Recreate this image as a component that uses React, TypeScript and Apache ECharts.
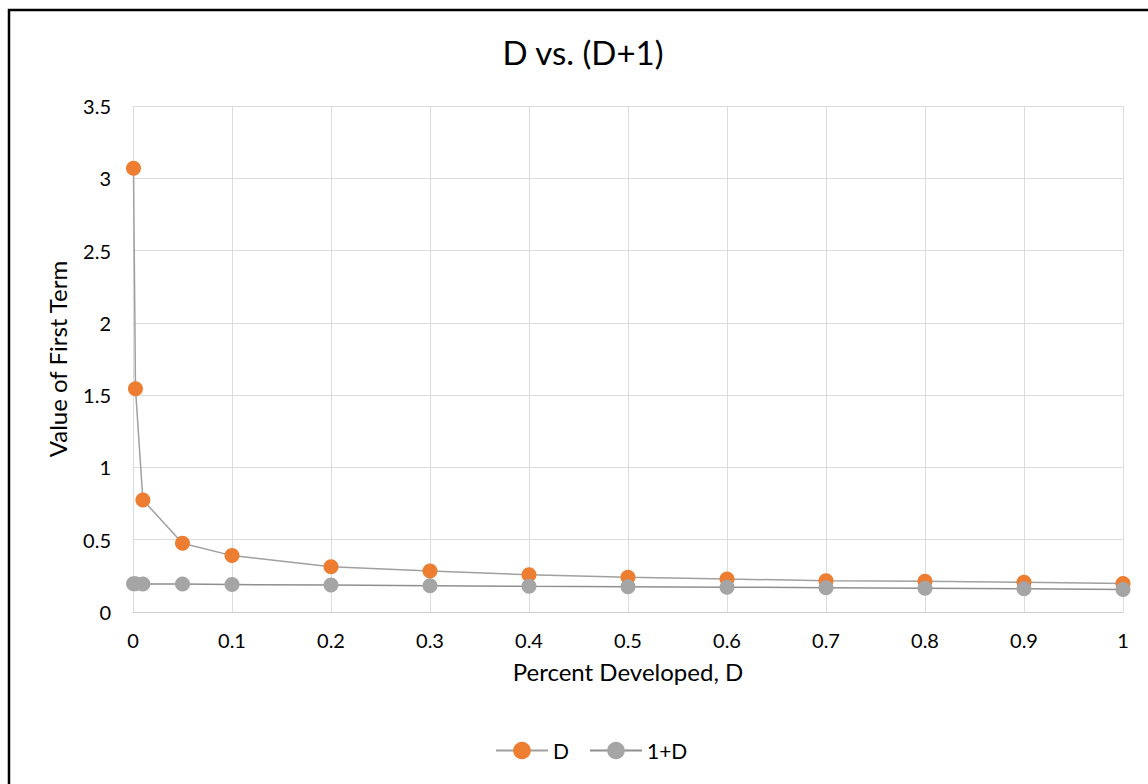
import React, { useEffect, useRef } from "react";
import * as echarts from "echarts";

// Percent developed, D (x) and the value of the first term for each form
const percentDeveloped = [0.0005, 0.0025, 0.01, 0.05, 0.1, 0.2, 0.3, 0.4, 0.5, 0.6, 0.7, 0.8, 0.9, 1];
const valuesD = [3.07, 1.545, 0.775, 0.475, 0.39, 0.313, 0.284, 0.258, 0.24, 0.228, 0.217, 0.212, 0.205, 0.197];
const valuesOnePlusD = [0.195, 0.195, 0.194, 0.193, 0.19, 0.186, 0.182, 0.178, 0.175, 0.172, 0.168, 0.164, 0.16, 0.156];

const seriesNames = ["D", "1+D"];
const FONT = "Lato, 'Open Sans', sans-serif";

export default function App() {
  const ref = useRef<HTMLDivElement>(null);

  useEffect(() => {
    if (!ref.current) return;
    const chart = echarts.init(ref.current, null, { renderer: "svg" });
    const pair = (ys: number[]) => percentDeveloped.map((x, i) => [x, ys[i]]);

    chart.setOption({
      animation: false,
      backgroundColor: "#ffffff",
      textStyle: { fontFamily: FONT, color: "#000000" },
      title: {
        text: "D vs. (D+1)",
        left: 583,
        top: 35,
        padding: 0,
        textAlign: "center",
        textStyle: { fontFamily: FONT, fontSize: 33, fontWeight: "normal", color: "#000000" },
      },
      legend: {
        left: 495,
        top: 740,
        padding: 0,
        itemWidth: 52,
        itemHeight: 22,
        itemGap: 20,
        textStyle: { fontFamily: FONT, fontSize: 21, color: "#000000", padding: [0, 0, 0, 0] },
        data: seriesNames,
      },
      grid: { left: 133, right: 25, top: 106, bottom: 172, containLabel: false },
      xAxis: {
        type: "value",
        min: 0,
        max: 1,
        interval: 0.1,
        name: "Percent Developed, D",
        nameLocation: "middle",
        nameGap: 47,
        nameTextStyle: { fontFamily: FONT, fontSize: 24, color: "#000000" },
        axisLine: { show: true, lineStyle: { color: "#cfcfcf", width: 1 } },
        axisTick: { show: false },
        axisLabel: { fontFamily: FONT, fontSize: 20, color: "#000000", margin: 18 },
        splitLine: { show: true, lineStyle: { color: "#dcdcdc", width: 1 } },
      },
      yAxis: {
        type: "value",
        min: 0,
        max: 3.5,
        interval: 0.5,
        name: "Value of First Term",
        nameLocation: "middle",
        nameGap: 64,
        nameTextStyle: { fontFamily: FONT, fontSize: 24, color: "#000000" },
        axisLine: { show: false },
        axisTick: { show: false },
        axisLabel: { fontFamily: FONT, fontSize: 20, color: "#000000", margin: 22 },
        splitLine: { show: true, lineStyle: { color: "#dcdcdc", width: 1 } },
      },
      graphic: [
        {
          type: "polyline",
          shape: { points: [[9, 784], [9, 10], [1148, 10]] },
          style: { stroke: "#000000", lineWidth: 2.5, fill: "none" },
          z: 100,
        },
      ],
      series: [
        {
          name: seriesNames[0],
          type: "line",
          data: pair(valuesD),
          symbol: "circle",
          symbolSize: 15,
          showSymbol: true,
          itemStyle: { color: "#ed7d31" },
          lineStyle: { color: "#a0a0a0", width: 1.5 },
          z: 2,
        },
        {
          name: seriesNames[1],
          type: "line",
          data: pair(valuesOnePlusD),
          symbol: "circle",
          symbolSize: 15,
          showSymbol: true,
          itemStyle: { color: "#a5a5a5" },
          lineStyle: { color: "#8f8f8f", width: 1.5 },
          z: 3,
        },
      ],
    });

    return () => chart.dispose();
  }, []);

  return (
    <div
      ref={ref}
      style={{ position: "fixed", left: 0, top: 0, width: 1148, height: 784, background: "#ffffff" }}
    />
  );
}
